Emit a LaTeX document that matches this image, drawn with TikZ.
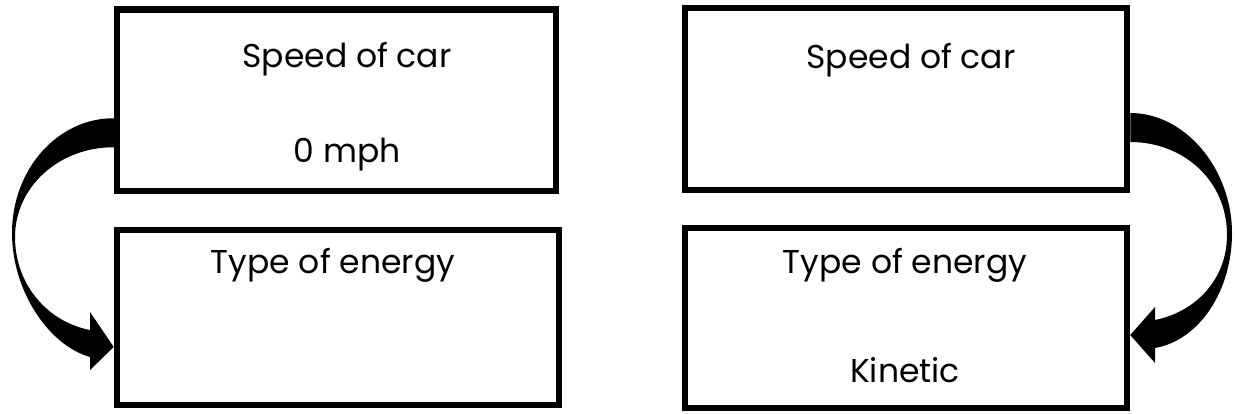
\documentclass[tikz,border=0pt]{standalone}
\usepackage{fontspec}
\setmainfont{Poppins}
\begin{document}
\begin{tikzpicture}[x=1pt,y=-1pt,
  box/.style={draw=black, line width=6.5pt, rectangle, inner sep=0pt},
  lbl/.style={anchor=base, inner sep=0pt, font=\fontsize{33}{40}\selectfont}]
\useasboundingbox (0,0) rectangle (1235,413);
% boxes
\node[box, minimum width=439pt, minimum height=181.5pt] (tl) at (336.5,100.25) {};
\node[box, minimum width=442pt, minimum height=182pt] (tr) at (906,99) {};
\node[box, minimum width=442pt, minimum height=175pt] (bl) at (338,317.5) {};
\node[box, minimum width=442pt, minimum height=180pt] (br) at (906,318) {};
% texts
\node[lbl] (t1) at (347,67) {Speed of car};
\node[lbl] (t2) at (347,162) {0 mph};
\node[lbl] (t3) at (911,68) {Speed of car};
\node[lbl] (t4) at (333,273) {Type of energy};
\node[lbl] (t5) at (905,273) {Type of energy};
\node[lbl] (t6) at (905,382) {Kinetic};
% left curved arrow
\coordinate (la) at ([yshift=-18pt]tl.west);
\coordinate (lb) at ([yshift=-47pt]tl.west);
\coordinate (lt) at ([yshift=-29.5pt]bl.west);
\fill[black] (la) .. controls (58,118) and (12,169) .. (12,233)
  .. controls (12,290) and (48,345) .. (90,357) -- (90,370) -- (lt) -- (90,312) -- (90,330)
  .. controls (48,322) and (15,285) .. (15,237)
  .. controls (15,187) and (59,147) .. (lb) -- cycle;
% right curved arrow
\coordinate (ra) at ([yshift=-14pt]tr.east);
\coordinate (rb) at ([yshift=-43pt]tr.east);
\coordinate (rt) at ([yshift=-17pt]br.east);
\fill[black] (ra) .. controls (1186,113) and (1232,170) .. (1232,233)
  .. controls (1232,290) and (1200,340) .. (1155,348) -- (1155,363) -- (rt) -- (1155,307) -- (1155,320)
  .. controls (1195,312) and (1227,280) .. (1227,235)
  .. controls (1227,180) and (1183,142) .. (rb) -- cycle;
\end{tikzpicture}
\end{document}
